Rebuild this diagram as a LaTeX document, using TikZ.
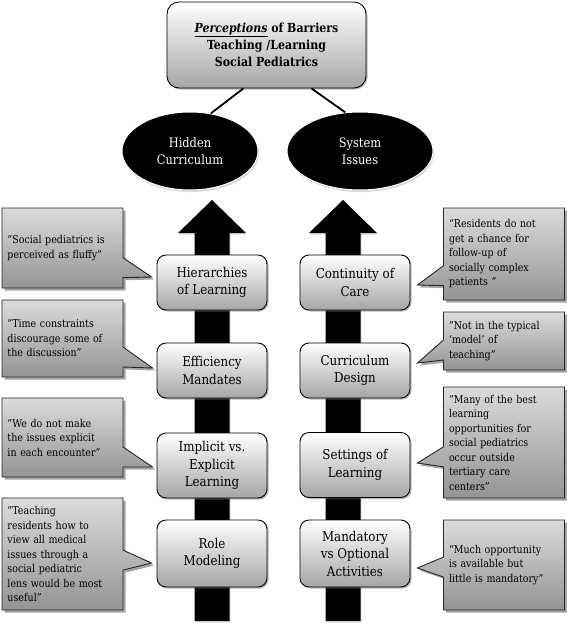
\documentclass[tikz,border=0pt]{standalone}
\usepackage{fontspec}
\setmainfont{DejaVu Serif}[FakeStretch=0.88]
\usetikzlibrary{shapes.geometric,shapes.callouts,shadows}

\begin{document}
\begin{tikzpicture}[x=1pt,y=-1pt,
    headbox/.style={draw=black,line width=0.9pt,rounded corners=12pt,top color=white,bottom color=black!35,
      drop shadow={shadow xshift=1.5pt,shadow yshift=-1.5pt,fill=black!55},
      minimum width=199pt,minimum height=86pt,align=center,font=\bfseries\fontsize{12.5}{17}\selectfont},
    theme/.style={ellipse,fill=black,draw=white,line width=1pt,text=white,inner sep=0pt,
      drop shadow={shadow xshift=1pt,shadow yshift=-2pt,fill=black!30},
      minimum height=78pt,align=center,font=\fontsize{13}{17}\selectfont},
    topic/.style={draw=black,line width=0.9pt,rounded corners=9pt,top color=white,bottom color=black!35,
      drop shadow={shadow xshift=1.5pt,shadow yshift=-1.5pt,fill=black!55},
      minimum width=110pt,minimum height=55pt,inner sep=2pt,align=center,font=\fontsize{13.5}{17.5}\selectfont},
    saying/.style={rectangle callout,draw=black!85,line width=0.9pt,top color=black!14,bottom color=black!42,
      callout pointer width=20pt,drop shadow={shadow xshift=2.5pt,shadow yshift=-2.5pt,fill=black!70},
      text width=110pt,inner xsep=5.5pt,align=left,font=\fontsize{10.8}{14.5}\selectfont},
    bigarrow/.style={fill=black,drop shadow={shadow xshift=1pt,shadow yshift=-1.5pt,fill=black!25}}]
  \useasboundingbox (0,0) rectangle (567,625);

  % the two upward arrows
  \fill[bigarrow] (194.5,621) -- (194.5,233) -- (178,233) -- (212,200) -- (246,233) -- (229.5,233) -- (229.5,621) -- cycle;
  \fill[bigarrow] (325.5,621) -- (325.5,233) -- (309,233) -- (343,200) -- (377,233) -- (360.5,233) -- (360.5,621) -- cycle;

  \node[headbox] (title) at (266.5,45) {\underline{\textit{Perceptions}} of Barriers\\Teaching /Learning\\Social Pediatrics};
  \node[theme,minimum width=136pt] (hidden) at (190,151) {Hidden\\Curriculum};
  \node[theme,minimum width=146pt] (system) at (360,151) {System\\Issues};
  \draw[line width=1.8pt] (title.-118) -- (hidden.61);
  \draw[line width=1.8pt] (title.-44) -- (system.111);

  % left column
  \node[topic] (hier) at (212,282.5) {Hierarchies\\of Learning};
  \node[topic] (effic) at (212,370.5) {Efficiency\\Mandates};
  \node[topic,minimum height=65pt] (implic) at (212,465.5) {Implicit vs.\\Explicit\\Learning};
  \node[topic,minimum height=67pt] (role) at (212,553.5) {Role\\Modeling};

  % right column
  \node[topic] (contin) at (355,282.5) {Continuity of\\Care};
  \node[topic] (design) at (355,370.5) {Curriculum\\Design};
  \node[topic,minimum height=65pt] (setting) at (355,465) {Settings of\\Learning};
  \node[topic,minimum height=67pt] (mandat) at (355,553.5) {Mandatory\\vs Optional\\Activities};

  % quotes
  \node[saying,minimum height=80pt,callout absolute pointer={([xshift=-5pt,yshift=5.5pt]hier.west)}] (q1) at (62.5,248)
    {“Social pediatrics is\\perceived as fluffy”};
  \node[saying,minimum height=77pt,callout absolute pointer={([xshift=-4pt,yshift=2.5pt]effic.west)}] (q2) at (62.5,338.5)
    {"Time constraints\\discourage some of\\the discussion"};
  \node[saying,minimum height=79pt,callout absolute pointer={([xshift=-4pt,yshift=-1.5pt]implic.west)}] (q3) at (62.5,437.5)
    {"We do not make\\the issues explicit\\in each encounter”};
  \node[saying,minimum height=112pt,callout absolute pointer={([xshift=-5pt,yshift=-9.5pt]role.west)}] (q4) at (62.5,554)
    {"Teaching\\residents how to\\view all medical\\issues through a\\social pediatric\\lens would be most\\useful"};

  \node[saying,minimum height=92pt,callout absolute pointer={([xshift=7pt,yshift=-2.5pt]contin.east)}] (q5) at (504,254)
    {“Residents do not\\get a chance for\\follow-up of\\socially complex\\patients "};
  \node[saying,minimum height=58pt,callout absolute pointer={([xshift=7pt,yshift=7.5pt]design.east)}] (q6) at (504,341)
    {"Not in the typical\\‘model’ of\\teaching"};
  \node[saying,minimum height=111pt,callout absolute pointer={([xshift=7pt,yshift=2pt]setting.east)}] (q7) at (504,442.5)
    {"Many of the best\\learning\\opportunities for\\social pediatrics\\occur outside\\tertiary care\\centers"};
  \node[saying,minimum height=90pt,callout absolute pointer={([xshift=7pt,yshift=-14.5pt]mandat.east)}] (q8) at (504,565)
    {“Much opportunity\\is available but\\little is mandatory”};
\end{tikzpicture}
\end{document}
